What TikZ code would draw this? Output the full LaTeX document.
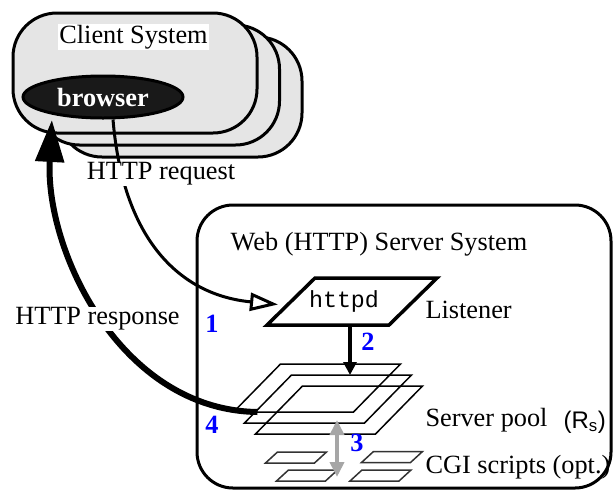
\documentclass[tikz,border=0pt]{standalone}
\usepackage{fontspec}
\setmainfont{Liberation Serif}
\setsansfont{Liberation Sans}
\setmonofont{Liberation Mono}
\usetikzlibrary{arrows.meta,shapes.geometric,calc}
\definecolor{clientgray}{gray}{0.9}
% parallelogram inside the box of a node: #2 node, #3 width of the lower side
\newcommand{\plate}[3][]{\draw[#1] (#2.south west) -- ++(#3,0) -- (#2.north east) -- ++(-#3,0) -- cycle;}

\begin{document}
\begin{tikzpicture}[x=1pt, y=-1pt, font=\fontsize{26.3}{31}\selectfont,
    sysbox/.style={draw, line width=3pt, rounded corners=44pt, fill=clientgray,
                   minimum width=244pt, minimum height=120pt},
    platebox/.style={inner sep=0pt, outer sep=0pt},
    num/.style={text=blue, font=\fontsize{26.3}{31}\selectfont\bfseries, anchor=base},
    lbl/.style={anchor=base west}]
    \useasboundingbox (0,0) rectangle (615,491);

    % client side
    \node[sysbox] (client3) at (180,97) {};
    \node[sysbox] (client2) at (157.5,85) {};
    \node[sysbox] (client) at (135,73) {};
    \node[fill=white, inner sep=1pt] (clientlbl) at (133.5,37) {Client System};
    \node[ellipse, draw, line width=3pt, fill=black!90, text=white, inner sep=0pt,
          minimum width=160pt, minimum height=42pt,
          font=\fontsize{26.3}{31}\selectfont\bfseries] (browser) at (103,97) {browser};

    % server side
    \node[draw, line width=3pt, rounded corners=36pt, minimum width=414pt,
          minimum height=283pt] (server) at (404,346.5) {};
    \node (serverlbl) at (379,244) {Web (HTTP) Server System};
    \node[platebox, minimum width=170pt, minimum height=47pt] (httpd) at (352,301.5) {};
    \plate[line width=3.5pt]{httpd}{122}
    \node[font=\fontsize{23.3}{28}\ttfamily] (httpdtxt) at (344,301.5) {httpd};
    \node[lbl] (listener) at (422,318) {Listener};
    \foreach \i/\x/\y in {1/317/388, 2/328/399, 3/339/410}{
      \node[platebox, minimum width=167pt, minimum height=48pt] (pool\i) at (\x,\y) {};
      \plate[line width=1.5pt]{pool\i}{120}
    }
    \node[lbl] (poollbl) at (422,426.5) {Server pool};
    \node[lbl, font=\fontsize{24}{28}\sffamily] (rs) at (560,428) {(R\textsubscript{s})};
    \foreach \i/\x/\y in {1/296/457.5, 2/307/475.5, 3/392/457, 4/380.5/475.5}{
      \node[platebox, minimum width=61pt, minimum height=11pt] (cgi\i) at (\x,\y) {};
      \plate[line width=1.5pt, draw=black!80]{cgi\i}{49}
    }
    \node[lbl] (cgilbl) at (422,473.5) {CGI scripts (opt.)};

    % request and response
    \draw[line width=3pt, -{Triangle[open, fill=white, length=28pt, width=18pt]}]
      ([xshift=10pt]browser.south) .. controls (123,240) and (180,295) .. ([xshift=11pt, yshift=-3pt]httpd.west);
    \coordinate (back) at ([xshift=24pt]pool1.south west);
    \draw[line width=6pt, -{Triangle[length=42pt, width=28pt]}]
      (back) .. controls (120,410) and (45,250) .. ([xshift=6.5pt, yshift=-7pt]browser.south west);
    \draw[line width=3.5pt, -{Triangle[length=13pt, width=13pt]}] ([xshift=-2pt]httpd.south) -- ([xshift=-2pt]httpd.south |- pool2.north);
    \coordinate (up) at (337,420);
    \coordinate (down) at (337,477);
    \draw[line width=4pt, black!35, {Triangle[length=15pt, width=14pt]}-{Triangle[length=15pt, width=14pt]}] (up) -- (down);
    \node[fill=white, inner sep=1pt] (req) at (161,174) {HTTP request};
    \node[fill=white, inner sep=1pt] (resp) at (97.5,319) {HTTP response};

    % steps
    \node[num] (n1) at (212,332) {1};
    \node[num] (n2) at (368,350) {2};
    \node[num] (n3) at (357,451) {3};
    \node[num] (n4) at (212,433) {4};
\end{tikzpicture}
\end{document}
